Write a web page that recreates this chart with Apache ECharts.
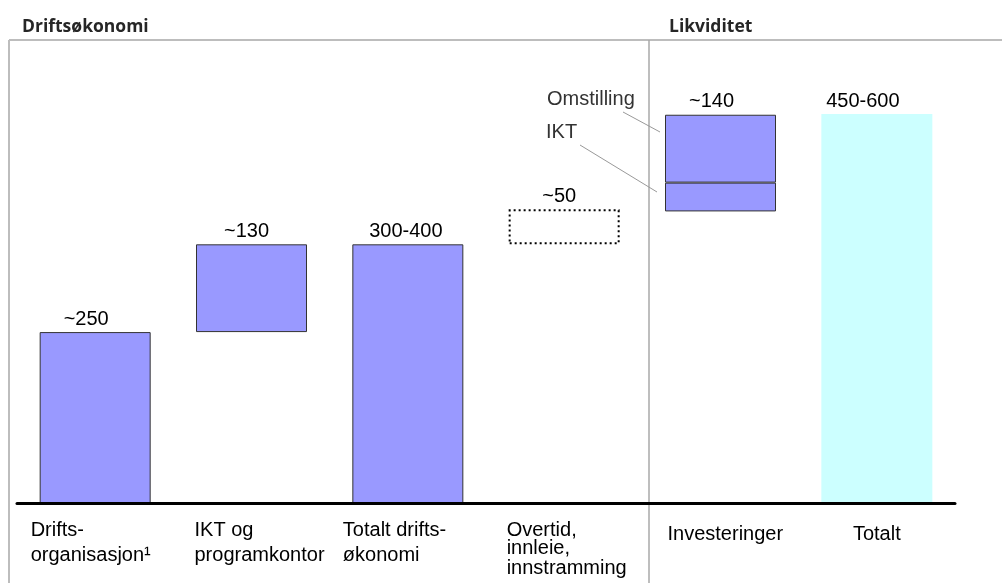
<!DOCTYPE html>
<html><head><meta charset="utf-8">
<script src="https://cdn.jsdelivr.net/npm/echarts@6/dist/echarts.min.js"></script>
<style>html,body{margin:0;padding:0;background:#fff}#c{width:1002px;height:583px}</style>
</head><body><div id="c"></div>
<script>
// ---- data ----
const categories = ['Drifts-\norganisasjon¹', 'IKT og\nprogramkontor', 'Totalt drifts-\nøkonomi', 'Overtid,\ninnleie,\ninnstramming', 'Investeringer', 'Totalt'];
const baseValues = [0, 250, 0, 378, 426, 0];          // invisible offset (floating bars)
const mainValues = [250, 128, 378, 51, 42, 568];      // first visible segment (IKT for Investeringer)
const omstillingValues = [null, null, null, null, 99, null];
const valueLabels = ['~250', '~130', '300-400', '~50', '~140', '450-600'];
const sectionTitles = ['Driftsøkonomi', 'Likviditet'];
const annotationTexts = ['Omstilling', 'IKT'];

// ---- styles ----
const FONT = '"Liberation Sans", Arial, sans-serif';
const purple = { color: '#9999ff', borderColor: '#333333', borderWidth: 1 };
const dotted = { color: 'rgba(0,0,0,0)', borderColor: '#000000', borderWidth: 2, borderType: [2, 3] };
const cyan = { color: '#ccffff', borderWidth: 0 };
const itemStyles = [purple, purple, purple, dotted, purple, cyan];
const labelOffsets = [[-9, 0], [-5, 0], [-2, 0], [-5, 0], [-9, 0], [-14, 0]];

const labelStyle = { fontFamily: FONT, fontSize: 20, color: '#000' };

const mainData = mainValues.map((v, i) => ({
  value: v,
  itemStyle: itemStyles[i],
  label: omstillingValues[i] == null ? {
    show: true, position: 'top', distance: 3, offset: labelOffsets[i],
    formatter: valueLabels[i], ...labelStyle
  } : { show: false }
}));
const omstData = omstillingValues.map((v, i) => v == null ? null : ({
  value: v,
  itemStyle: purple,
  label: { show: true, position: 'top', distance: 3, offset: labelOffsets[i], formatter: valueLabels[i], ...labelStyle }
}));

const richBase = { fontFamily: FONT, fontSize: 20, color: '#000' };
const rich = {
  c0: { ...richBase, width: 129, align: 'left', lineHeight: 25 },
  c1: { ...richBase, width: 114, align: 'left', lineHeight: 25 },
  c2: { ...richBase, width: 130, align: 'left', lineHeight: 25 },
  c3f: { ...richBase, width: 115, align: 'left', lineHeight: 20, padding: [4, 0, 0, 0] },
  c3: { ...richBase, width: 115, align: 'left', lineHeight: 20 },
  c4: { ...richBase, width: 106, align: 'left', lineHeight: 33 },
  c5: { ...richBase, align: 'center', lineHeight: 33 }
};

const frameColor = '#bdbdbd';
const titleStyle = { fontFamily: '"Open Sans", sans-serif', fontWeight: 'bold', fontSize: 17.5, color: '#262626' };
const chart = echarts.init(document.getElementById('c'));
chart.setOption({
  animation: false,
  backgroundColor: '#fff',
  title: [
    { text: sectionTitles[0], left: 22, top: 18, padding: 0, textStyle: titleStyle },
    { text: sectionTitles[1], left: 669, top: 18, padding: 0, textStyle: titleStyle }
  ],
  grid: { left: 17, right: 47, top: 40, bottom: 79.5 },
  xAxis: {
    type: 'category', data: categories, z: 5,
    axisTick: { show: false },
    axisLine: { lineStyle: { color: '#000', width: 3 } },
    axisLabel: {
      interval: 0, margin: 14.5,
      formatter: (val, idx) => val.split('\n').map((l, k) => `{c${idx}${idx === 3 && k === 0 ? 'f' : ''}|${l}}`).join('\n'),
      rich: rich
    }
  },
  yAxis: { type: 'value', min: 0, max: 676, show: false },
  series: [
    { type: 'bar', stack: 's', data: baseValues, barWidth: 111, itemStyle: { color: 'rgba(0,0,0,0)' }, silent: true },
    { type: 'bar', stack: 's', data: mainData, barWidth: 111 },
    { type: 'bar', stack: 's', data: omstData, barWidth: 111 }
  ],
  graphic: [
    { type: 'line', z: -10, shape: { x1: 9, y1: 40, x2: 1002, y2: 40 }, style: { stroke: frameColor, lineWidth: 2 } },
    { type: 'line', z: -10, shape: { x1: 9, y1: 40, x2: 9, y2: 583 }, style: { stroke: frameColor, lineWidth: 2 } },
    { type: 'line', z: -10, shape: { x1: 649, y1: 40, x2: 649, y2: 583 }, style: { stroke: '#a8a8a8', lineWidth: 1.5 } },
    { type: 'text', x: 547, y: 89, style: { text: annotationTexts[0], font: '20px ' + FONT, fill: '#333', verticalAlign: 'top' } },
    { type: 'text', x: 546, y: 122, style: { text: annotationTexts[1], font: '20px ' + FONT, fill: '#333', verticalAlign: 'top' } },
    { type: 'line', shape: { x1: 623, y1: 112, x2: 660, y2: 132 }, style: { stroke: '#999', lineWidth: 1 } },
    { type: 'line', shape: { x1: 580, y1: 145, x2: 657, y2: 192 }, style: { stroke: '#999', lineWidth: 1 } }
  ]
});
</script></body></html>
